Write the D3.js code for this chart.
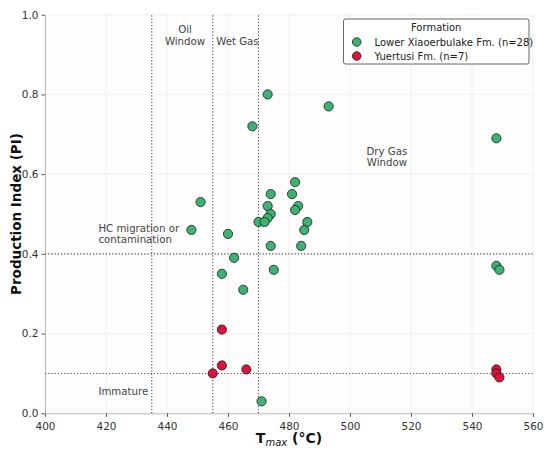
<!DOCTYPE html>
<html>
<head>
<meta charset="utf-8">
<script src="https://cdn.jsdelivr.net/npm/d3@7"></script>
<style>
  body { margin: 0; background: #fff; }
  text { font-family: "DejaVu Sans", sans-serif; }
</style>
</head>
<body>
<script>
// Lower Xiaoerbulake Fm. (Tmax, PI)
var xiaoTmax = [473, 493, 468, 548, 482, 474, 481, 451, 473, 483, 482, 474, 473, 470, 472, 486,
                448, 485, 460, 474, 484, 462, 458, 475, 465, 471, 548, 549];
var xiaoPI   = [0.80, 0.77, 0.72, 0.69, 0.58, 0.55, 0.55, 0.53, 0.52, 0.52, 0.51, 0.50, 0.49, 0.48, 0.48, 0.48,
                0.46, 0.46, 0.45, 0.42, 0.42, 0.39, 0.35, 0.36, 0.31, 0.03, 0.37, 0.36];
// Yuertusi Fm.
var yuerTmax = [458, 458, 455, 466, 548, 548, 549];
var yuerPI   = [0.21, 0.12, 0.10, 0.11, 0.11, 0.10, 0.09];

var xTicks = [400, 420, 440, 460, 480, 500, 520, 540, 560];
var yTicks = [0.0, 0.2, 0.4, 0.6, 0.8, 1.0];
var tmaxLines = [435, 455, 470];
var piLines = [0.4, 0.1];

var width = 550, height = 452;
var margin = {top: 14.7, right: 17, bottom: 38.7, left: 45};

var svg = d3.select("body").append("svg")
    .attr("width", width)
    .attr("height", height);

var x = d3.scaleLinear().domain([400, 560]).range([margin.left, width - margin.right]);
var y = d3.scaleLinear().domain([0, 1]).range([height - margin.bottom, margin.top]);

// plot background
svg.append("rect")
    .attr("x", x(400)).attr("y", y(1))
    .attr("width", x(560) - x(400)).attr("height", y(0) - y(1))
    .attr("fill", "#fdfdfd");

// grid
svg.append("g").selectAll("line").data(xTicks).enter().append("line")
    .attr("x1", d => x(d)).attr("x2", d => x(d))
    .attr("y1", y(0)).attr("y2", y(1))
    .attr("stroke", "#ececec").attr("stroke-width", 0.8);
svg.append("g").selectAll("line").data(yTicks).enter().append("line")
    .attr("x1", x(400)).attr("x2", x(560))
    .attr("y1", d => y(d)).attr("y2", d => y(d))
    .attr("stroke", "#ececec").attr("stroke-width", 0.8);

// axes
var xAxis = svg.append("g")
    .attr("transform", "translate(0," + y(0) + ")")
    .call(d3.axisBottom(x).tickValues(xTicks).tickFormat(d3.format("d")).tickSize(3.5).tickSizeOuter(0));
var yAxis = svg.append("g")
    .attr("transform", "translate(" + x(400) + ",0)")
    .call(d3.axisLeft(y).tickValues(yTicks).tickFormat(d3.format(".1f")).tickSize(3.5).tickSizeOuter(0));
[xAxis, yAxis].forEach(function(a) {
    a.select(".domain").attr("stroke", "#bbb").attr("stroke-width", 1);
    a.selectAll(".tick line").attr("stroke", "#555");
    a.selectAll(".tick text").attr("fill", "#333").style("font-size", "10.5px")
        .style("font-family", "DejaVu Sans, sans-serif");
});
xAxis.selectAll(".tick text").attr("dy", "0.95em");

// maturity boundaries
svg.append("g").selectAll("line").data(tmaxLines).enter().append("line")
    .attr("x1", d => x(d)).attr("x2", d => x(d))
    .attr("y1", y(0)).attr("y2", y(1))
    .attr("stroke", "#555").attr("stroke-width", 1.1).attr("stroke-dasharray", "1.2,2");
svg.append("g").selectAll("line").data(piLines).enter().append("line")
    .attr("x1", x(400)).attr("x2", x(560))
    .attr("y1", d => y(d)).attr("y2", d => y(d))
    .attr("stroke", "#555").attr("stroke-width", 1.1).attr("stroke-dasharray", "1.2,2");

// zone labels
var ann = svg.append("g").attr("fill", "#444").style("font-size", "10.2px");
function label(lines, tx, ty, anchor) {
    var t = ann.append("text").attr("text-anchor", anchor);
    lines.forEach(function(s, i) {
        t.append("tspan").attr("x", x(tx)).attr("y", y(ty) + i * 11.7).text(s);
    });
}
label(["Oil", "Window"], 445.9, 0.953, "middle");
label(["Wet Gas"], 463.1, 0.924, "middle");
label(["Dry Gas", "Window"], 512.1, 0.649, "middle");
label(["HC migration or", "contamination"], 417.5, 0.4556, "start");
label(["Immature"], 417.5, 0.0464, "start");

// points
var green = "#3cb371", red = "#dc143c";
var xiao = d3.zip(xiaoTmax, xiaoPI);
var yuer = d3.zip(yuerTmax, yuerPI);
svg.append("g").selectAll("circle").data(xiao).enter().append("circle")
    .attr("cx", d => x(d[0])).attr("cy", d => y(d[1])).attr("r", 4.6)
    .attr("fill", green).attr("stroke", "#1a1a1a").attr("stroke-width", 0.8);
svg.append("g").selectAll("circle").data(yuer).enter().append("circle")
    .attr("cx", d => x(d[0])).attr("cy", d => y(d[1])).attr("r", 4.6)
    .attr("fill", red).attr("stroke", "#1a1a1a").attr("stroke-width", 0.8);

// axis titles
svg.append("text")
    .attr("transform", "translate(21," + ((y(0) + y(1)) / 2) + ") rotate(-90)")
    .attr("text-anchor", "middle")
    .style("font-size", "13.5px").style("font-weight", "bold").attr("fill", "#111")
    .text("Production Index (PI)");
var xt = svg.append("text")
    .attr("x", (x(400) + x(560)) / 2).attr("y", 443)
    .attr("text-anchor", "middle").attr("fill", "#111")
    .style("font-size", "14px").style("font-weight", "bold");
xt.append("tspan").text("T");
xt.append("tspan").attr("dy", 3).style("font-size", "10px").style("font-weight", "normal")
    .style("font-style", "italic").text("max");
xt.append("tspan").attr("dy", -3).text(" (°C)");

// legend
var lg = svg.append("g").attr("transform", "translate(343.5,19)");
lg.append("rect").attr("width", 185.5).attr("height", 45).attr("rx", 2)
    .attr("fill", "#fff").attr("stroke", "#555").attr("stroke-width", 0.9);
lg.append("text").attr("x", 92.7).attr("y", 11.5).attr("text-anchor", "middle")
    .style("font-size", "10px").attr("fill", "#222").text("Formation");
var legendItems = [["Lower Xiaoerbulake Fm. (n=28)", green], ["Yuertusi Fm. (n=7)", red]];
legendItems.forEach(function(it, i) {
    lg.append("circle").attr("cx", 13.2).attr("cy", 23 + i * 14).attr("r", 4.3)
        .attr("fill", it[1]).attr("stroke", "#1a1a1a").attr("stroke-width", 0.8);
    lg.append("text").attr("x", 31).attr("y", 26.5 + i * 14)
        .style("font-size", "10px").attr("fill", "#222").text(it[0]);
});
</script>
</body>
</html>
